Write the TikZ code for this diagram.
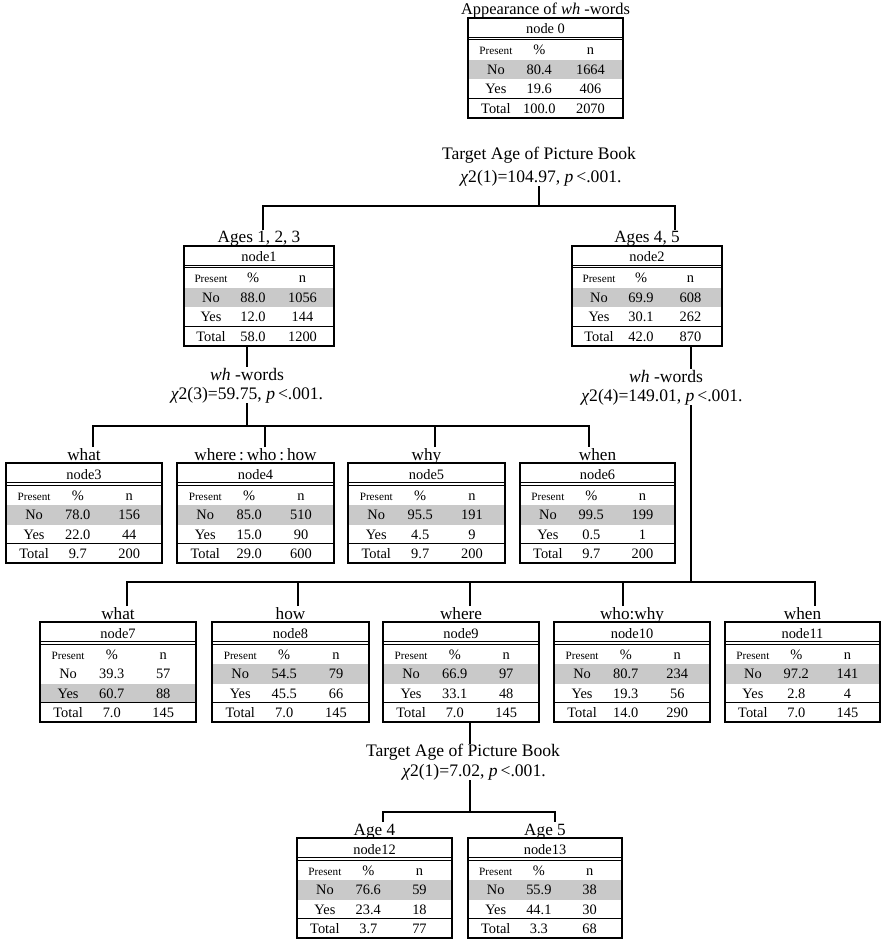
\documentclass[tikz,border=0pt]{standalone}
\usepackage{fontspec}
\setmainfont{Liberation Serif}
\usetikzlibrary{positioning}

\tikzset{
  lbl/.style={font=\fontsize{8.6}{9}\selectfont, inner sep=0pt},
  splittxt/.style={font=\fontsize{8.8}{9.5}\selectfont, inner sep=0pt},
  tbl/.style={font=\fontsize{7.2}{8}\selectfont, inner sep=0pt, anchor=base},
  hdr/.style={font=\fontsize{5.6}{6}\selectfont, inner sep=0pt, anchor=base},
  tabframe/.style={draw, line width=1pt, inner sep=0pt, outer sep=0pt, anchor=north west},
  tabrule/.style={line width=0.5pt},
  rowfill/.style={fill=black!21},
  conn/.style={line width=0.6pt},
}

% one result box: name, left, top, width, title, shaded row, No, Yes, Total
\newcommand\ctab[9]{%
  \begin{scope}[shift={(#2,#3)}]
    \fill[rowfill] (0,{42+19.5*(#6-1)}) rectangle (#4,{61.5+19*(#6-1)});
    \draw[tabrule] (0,19.5) -- (#4,19.5) (0,22) -- (#4,22) (0,80.5) -- (#4,80.5);
    \node[tabframe, minimum width={#4*0.5pt}, minimum height=50pt] (#1) at (0,0) {};
    \node[tbl] at ({#4/2},16) {#5};
    \node[hdr] at ({0.18*#4},37) {Present};
    \node[tbl] at ({0.46*#4},37) {\%};
    \node[tbl] at ({0.79*#4},37) {n};
    \foreach \lab/\pc/\cnt [count=\r] in {No/#7,Yes/#8,Total/#9}{
      \node[tbl] at ({0.18*#4},{37+19.5*\r}) {\lab};
      \node[tbl] at ({0.46*#4},{37+19.5*\r}) {\pc};
      \node[tbl] at ({0.79*#4},{37+19.5*\r}) {\cnt};
    }
  \end{scope}}

\begin{document}
\begin{tikzpicture}[x=0.5pt, y=-0.5pt]
  \useasboundingbox (0,0) rectangle (881,940);

  % ---------- result boxes ----------
  \ctab{n0}{468}{18}{155}{node 0}{1}{80.4/1664}{19.6/406}{100.0/2070}
  \ctab{n1}{184}{246}{150}{node1}{1}{88.0/1056}{12.0/144}{58.0/1200}
  \ctab{n2}{572}{246}{150}{node2}{1}{69.9/608}{30.1/262}{42.0/870}
  \ctab{n3}{6}{463}{156}{node3}{1}{78.0/156}{22.0/44}{9.7/200}
  \ctab{n4}{177}{463}{157}{node4}{1}{85.0/510}{15.0/90}{29.0/600}
  \ctab{n5}{348}{463}{157}{node5}{1}{95.5/191}{4.5/9}{9.7/200}
  \ctab{n6}{520}{463}{155}{node6}{1}{99.5/199}{0.5/1}{9.7/200}
  \ctab{n7}{40}{622}{156}{node7}{2}{39.3/57}{60.7/88}{7.0/145}
  \ctab{n8}{212}{622}{157}{node8}{1}{54.5/79}{45.5/66}{7.0/145}
  \ctab{n9}{383}{622}{156}{node9}{1}{66.9/97}{33.1/48}{7.0/145}
  \ctab{n10}{554}{622}{156}{node10}{1}{80.7/234}{19.3/56}{14.0/290}
  \ctab{n11}{725}{622}{155}{node11}{1}{97.2/141}{2.8/4}{7.0/145}
  \ctab{n12}{297}{838}{155}{node12}{1}{76.6/59}{23.4/18}{3.7/77}
  \ctab{n13}{468}{838}{154}{node13}{1}{55.9/38}{44.1/30}{3.3/68}

  % ---------- category labels above the boxes ----------
  \node[lbl, font=\fontsize{8.2}{9}\selectfont, anchor=base] (l0)
    at ([yshift=1.5pt]n0.north) {Appearance of \textit{wh} -words};
  \foreach \k/\txt in {1/{Ages 1, 2, 3}, 2/{Ages 4, 5},
      3/what, 4/{where\,:\,who\,:\,how}, 5/why, 6/when, 7/what, 8/how, 9/where,
      10/who:why, 11/when, 12/{Age 4}, 13/{Age 5}}
    \node[lbl, anchor=base] (l\k) at ([yshift=1.5pt]n\k.north) {\txt};

  % ---------- split texts ----------
  \node[splittxt] (sA1) at (539,155) {Target Age of Picture Book};
  \node[splittxt] (sA2) at (541,178) {{\itshape χ}2(1)=104.97, {\itshape p}\,<.001.};
  \node[splittxt] (sB1) at (247,374) {\textit{wh} -words};
  \node[splittxt] (sB2) at (247,395) {{\itshape χ}2(3)=59.75, {\itshape p}\,<.001.};
  \node[splittxt] (sC1) at (666,376) {\textit{wh} -words};
  \node[splittxt] (sC2) at (662,397) {{\itshape χ}2(4)=149.01, {\itshape p}\,<.001.};
  \node[splittxt] (sD1) at (463,752) {Target Age of Picture Book};
  \node[splittxt] (sD2) at (474,772) {{\itshape χ}2(1)=7.02, {\itshape p}\,<.001.};

  % ---------- junctions and drop points ----------
  \coordinate (jA) at (539,206);
  \coordinate (jB) at (247,426);
  \coordinate (jC) at (691,582);
  \coordinate (jD) at (470,812);
  \coordinate (d1) at (263,230);  \coordinate (d2) at (675,230);
  \coordinate (d3) at (93,447);   \coordinate (d4) at (265,447);
  \coordinate (d5) at (435,447);  \coordinate (d6) at (589,447);
  \coordinate (d7) at (127,606);  \coordinate (d8) at (298,606);
  \coordinate (d9) at (470,606);  \coordinate (d10) at (623,606);
  \coordinate (d11) at (815,606);
  \coordinate (d12) at (383,822); \coordinate (d13) at (555,822);

  % ---------- tree connectors ----------
  \draw[conn] (sA2.south -| jA) -- (jA);
  \draw[conn] (d1) |- (jA) -| (d2);

  \draw[conn] (n1.south -| jB) -- (sB1.north -| jB);
  \draw[conn] (sB2.south -| jB) -- (jB);
  \draw[conn] (d3) |- (jB) -| (d6);
  \draw[conn] (d4) -- (d4 |- jB);
  \draw[conn] (d5) -- (d5 |- jB);

  \draw[conn] (n2.south -| jC) -- (sC1.north -| jC);
  \draw[conn] (sC2.south -| jC) -- (jC);
  \draw[conn] (d7) |- (jC) -| (d11);
  \foreach \k in {8,9,10}
    \draw[conn] (d\k) -- (d\k |- jC);

  \draw[conn] (n9.south -| jD) -- (sD1.north -| jD);
  \draw[conn] (sD2.south -| jD) -- (jD);
  \draw[conn] (d12) |- (jD) -| (d13);
\end{tikzpicture}
\end{document}
